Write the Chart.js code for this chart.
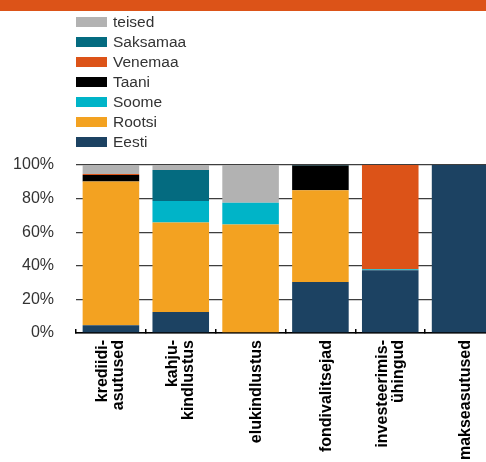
<!DOCTYPE html>
<html lang="et">
<head>
<meta charset="utf-8">
<title>Turuosad päritoluriigi järgi</title>
<script src="https://cdn.jsdelivr.net/npm/chart.js@4/dist/chart.umd.min.js"></script>
<style>
  html, body { margin: 0; padding: 0; background: #fff; width: 486px; height: 462px; overflow: hidden; }
  #band { position: absolute; left: 0; top: 0; width: 486px; height: 11px; background: #DC5318; z-index: 2; }
  #wrap { position: absolute; left: 0; top: 0; width: 495px; height: 462px; }
  #legend { position: absolute; left: 76px; top: 12px; margin: 0; padding: 0; list-style: none;
            font: 15.5px "Liberation Sans", Arial, sans-serif; color: #333; z-index: 2; }
  #legend li { height: 20px; display: flex; align-items: center; white-space: nowrap; }
  #legend .box { display: inline-block; width: 31px; height: 10px; margin-right: 6px; }
</style>
</head>
<body>
<div id="band"></div>
<ul id="legend"></ul>
<div id="wrap"><canvas id="chart" width="495" height="462"></canvas></div>
<script>
// Sectors (x categories); two-part names are split over two lines
const categories = [
  ['krediidi-', 'asutused'],
  ['kahju-', 'kindlustus'],
  'elukindlustus',
  'fondivalitsejad',
  ['investeerimis-', 'ühingud'],
  'makseasutused'
];

// Share of each sector's market by country of origin, %
const eesti    = [4.6, 12.5, 0,    30.4, 37.4, 100];
const rootsi   = [85.6, 53.3, 64.6, 54.6, 0,   0];
const soome    = [0,    12.7, 12.9, 0,    0.6, 0];
const taani    = [3.8,  0,    0,    14.7, 0,   0];
const venemaa  = [0.6,  0,    0,    0,    62.0, 0];
const saksamaa = [0,    18.5, 0,    0.3,  0,   0];
const teised   = [5.4,  3.0,  22.5, 0,    0,   0];

// Value axis ticks, %
const yTicks = [0, 20, 40, 60, 80, 100];

const series = [
  { label: 'Eesti',    data: eesti,    backgroundColor: '#1C4262' },
  { label: 'Rootsi',   data: rootsi,   backgroundColor: '#F3A221' },
  { label: 'Soome',    data: soome,    backgroundColor: '#00B4C8' },
  { label: 'Taani',    data: taani,    backgroundColor: '#000000' },
  { label: 'Venemaa',  data: venemaa,  backgroundColor: '#DC5318' },
  { label: 'Saksamaa', data: saksamaa, backgroundColor: '#046B80' },
  { label: 'teised',   data: teised,   backgroundColor: '#B2B2B2' }
];

const isSingle = (i) => !Array.isArray(categories[i]);

const chart = new Chart(document.getElementById('chart'), {
  type: 'bar',
  data: {
    labels: categories,
    datasets: series.map(s => ({ ...s, borderWidth: 0, barPercentage: 0.81, categoryPercentage: 1 }))
  },
  options: {
    responsive: false,
    animation: false,
    devicePixelRatio: 1,
    layout: { padding: { top: 165, left: 0, right: 0, bottom: 0 } },
    plugins: {
      legend: { display: false },
      tooltip: { enabled: false }
    },
    scales: {
      x: {
        stacked: true,
        offset: true,
        afterFit: (scale) => {
          scale.height = 129;
          scale.paddingLeft = 0;
          scale.paddingRight = 0;
        },
        border: { display: true, color: '#000', width: 1.5 },
        grid: { offset: true, drawOnChartArea: false, drawTicks: true, tickLength: -4, color: '#000', lineWidth: 1.5 },
        ticks: {
          autoSkip: false,
          minRotation: 90,
          maxRotation: 90,
          padding: 11,
          labelOffset: -8,
          color: '#000',
          // single-line names sit a little right of the category centre
          showLabelBackdrop: (ctx) => isSingle(ctx.index),
          backdropColor: 'rgba(0,0,0,0)',
          backdropPadding: 0,
          font: (ctx) => ({
            family: '"Liberation Sans", Arial, sans-serif',
            size: 16,
            weight: 'bold',
            lineHeight: isSingle(ctx.index) ? '28px' : '16px'
          })
        }
      },
      y: {
        stacked: true,
        min: 0,
        max: 100,
        afterFit: (scale) => { scale.width = 76; },
        afterBuildTicks: (scale) => { scale.ticks = yTicks.map(v => ({ value: v })); },
        border: { display: false },
        grid: { drawTicks: false, color: '#3E3E3E', lineWidth: 1.3 },
        ticks: {
          padding: 22,
          color: '#333',
          font: { family: '"Liberation Sans", Arial, sans-serif', size: 16 },
          callback: (v) => v + '%'
        }
      }
    }
  }
});

// Legend listed top-down in the reverse of the stacking order
const legendEl = document.getElementById('legend');
Chart.defaults.plugins.legend.labels.generateLabels(chart).reverse().forEach(item => {
  const li = document.createElement('li');
  const box = document.createElement('span');
  box.className = 'box';
  box.style.background = item.fillStyle;
  li.appendChild(box);
  li.appendChild(document.createTextNode(item.text));
  legendEl.appendChild(li);
});
</script>
</body>
</html>
